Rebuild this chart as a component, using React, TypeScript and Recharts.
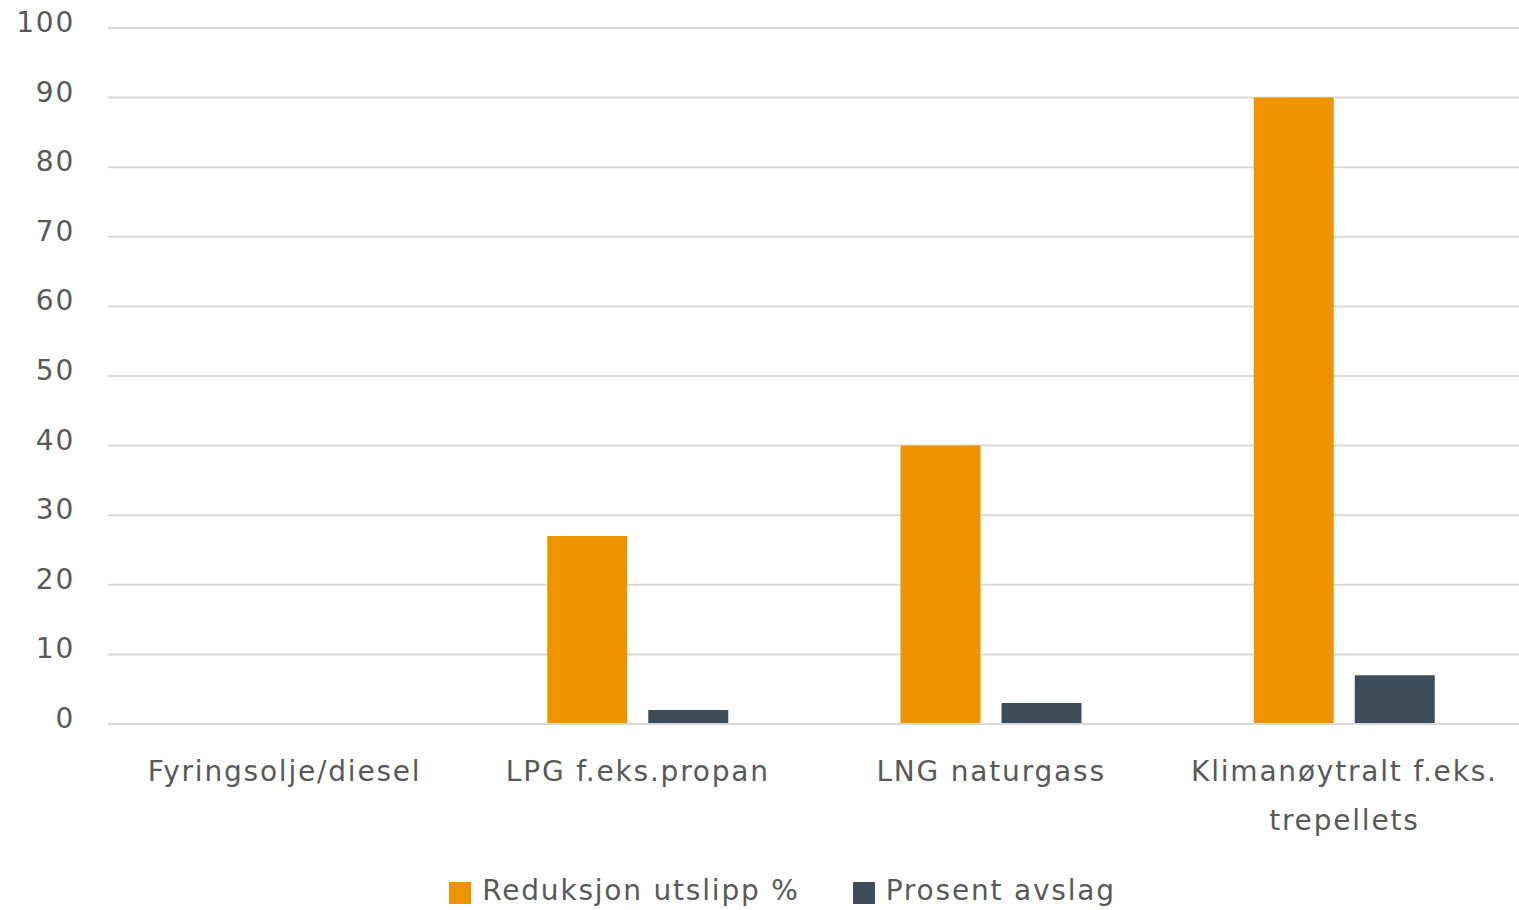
import React from "react";
import { BarChart, Bar, XAxis, YAxis, CartesianGrid, Legend } from "recharts";

const categories = ["Fyringsolje/diesel", "LPG f.eks.propan", "LNG naturgass", "Klimanøytralt f.eks.\ntrepellets"];
const reduksjon = [0, 27, 40, 90];
const avslag = [0, 2, 3, 7];
const yTicks = [0, 10, 20, 30, 40, 50, 60, 70, 80, 90, 100];

const data = categories.map((c, i) => ({ name: c, reduksjon: reduksjon[i], avslag: avslag[i] }));

const FONT = "'DejaVu Sans', sans-serif";
const TEXT = "#595959";
const ORANGE = "#EE9400";
const DARK = "#3D4E5A";
const FS = 28;
const LS = 1.8;

const XTick = (props: any) => {
  const { x, y, payload } = props;
  const lines = String(payload.value).split("\n");
  return (
    <g>
      {lines.map((l, i) => (
        <text key={i} x={x} y={y + 49 + i * 49} textAnchor="middle" fill={TEXT} fontFamily={FONT} fontSize={FS} letterSpacing={LS}>
          {l}
        </text>
      ))}
    </g>
  );
};

const YTick = (props: any) => {
  const { x, y, payload } = props;
  return (
    <text x={x} y={y + 4} textAnchor="end" fill={TEXT} fontFamily={FONT} fontSize={FS} letterSpacing={LS}>
      {payload.value}
    </text>
  );
};

const LegendContent = () => {
  const items = [
    { label: "Reduksjon utslipp %", color: ORANGE },
    { label: "Prosent avslag", color: DARK },
  ];
  return (
    <div style={{ display: "flex", justifyContent: "center", alignItems: "center", height: 50, paddingTop: 10, paddingLeft: 42, boxSizing: "border-box", fontFamily: FONT, fontSize: FS, letterSpacing: LS, color: TEXT }}>
      {items.map((it, i) => (
        <div key={i} style={{ display: "flex", alignItems: "center", marginLeft: i ? 53 : 0 }}>
          <span style={{ display: "inline-block", width: 22, height: 22, background: it.color, marginRight: 11, marginTop: 6 }} />
          <span>{it.label}</span>
        </div>
      ))}
    </div>
  );
};

export default function App() {
  return (
    <div style={{ position: "absolute", left: 0, top: 0, width: 1519, height: 910, overflow: "hidden" }}>
      <BarChart width={1521} height={910} data={data} margin={{ top: 28, right: 0, left: 2, bottom: 0 }} barSize={80} barGap={21}>
        <CartesianGrid vertical={false} stroke="#D9D9D9" strokeWidth={2} />
        <XAxis dataKey="name" tick={<XTick />} tickLine={false} axisLine={{ stroke: "#D9D9D9", strokeWidth: 2 }} height={136} interval={0} />
        <YAxis
          domain={[0, 100]}
          ticks={yTicks}
          width={106}
          tickLine={false}
          axisLine={false}
          tickMargin={27}
          tick={<YTick />}
        />
        <Legend verticalAlign="bottom" height={50} content={<LegendContent />} />
        <Bar dataKey="reduksjon" name="Reduksjon utslipp %" fill={ORANGE} isAnimationActive={false} />
        <Bar dataKey="avslag" name="Prosent avslag" fill={DARK} isAnimationActive={false} />
      </BarChart>
    </div>
  );
}
